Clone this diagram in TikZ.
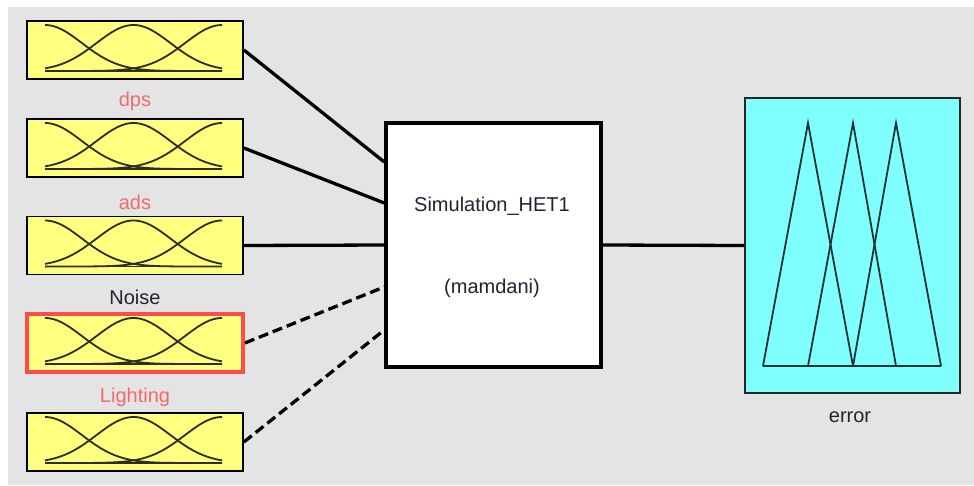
\documentclass[tikz,border=0pt]{standalone}
\usepackage{fontspec}
\setmainfont{Liberation Sans}
\usetikzlibrary{calc}
\definecolor{panel}{HTML}{E4E4E4}
\definecolor{mfyellow}{HTML}{FFFF80}
\definecolor{mfcyan}{HTML}{80FFFF}
\definecolor{lblred}{HTML}{F26B6B}
\definecolor{selred}{HTML}{FF4B4B}
\definecolor{txt}{HTML}{222233}
\definecolor{curve}{HTML}{2E2E1E}
\definecolor{tri}{HTML}{1E3434}
\begin{document}
\begin{tikzpicture}[x=1pt,y=-1pt,
  lbl/.style={font=\fontsize{20}{24}\selectfont, inner sep=0pt},
  inbox/.style={draw=black, line width=1.8pt, fill=mfyellow, minimum width=216pt, minimum height=58pt, inner sep=0pt},
  selbox/.style={inbox, draw=selred, line width=3.8pt},
  simbox/.style={draw=black, line width=3.5pt, fill=white, minimum width=215pt, minimum height=244pt, inner sep=0pt},
  outbox/.style={draw=black!85, line width=1.8pt, fill=mfcyan, minimum width=215pt, minimum height=295pt, inner sep=0pt},
  conn/.style={line width=3.3pt, black},
  dconn/.style={conn, dash pattern=on 10pt off 5pt},
  mf/.style={curve, line width=1.8pt},
  trl/.style={tri, line width=1.8pt, line join=miter}]
\useasboundingbox (0,0) rectangle (974,485);
\fill[white] (0,0) rectangle (974,485);
\fill[panel] (8,7) rectangle (974,485);

% input boxes
\node[inbox]  (b1) at (135,50) {};
\node[inbox]  (b2) at (135,148) {};
\node[inbox]  (b3) at (135,245.5) {};
\node[selbox] (b4) at (135,343) {};
\node[inbox]  (b5) at (135,442) {};

% membership curves
\foreach \cy in {50,148,245.5,343,442}{
  \draw[mf] plot[domain=45:222,samples=90,smooth] (\x,{\cy+21-46*exp(-0.5*((\x-45)/37)^2)});
  \draw[mf] plot[domain=45:222,samples=90,smooth] (\x,{\cy+21-46*exp(-0.5*((\x-133.5)/37)^2)});
  \draw[mf] plot[domain=45:222,samples=90,smooth] (\x,{\cy+21-46*exp(-0.5*((\x-222)/37)^2)});
  \draw[mf] (45,\cy+21) -- (222,\cy+21);
}

% labels
\node[lbl, text=lblred] (ldps) at (135,101) {dps};
\node[lbl, text=lblred] (lads) at (135,202) {ads};
\node[lbl, text=txt] (lnoise) at (135,297) {Noise};
\node[lbl, text=lblred] (llight) at (135,397) {Lighting};

% system box
\node[simbox] (sim) at (493.5,245) {};
\node[lbl, text=txt] (simname) at (492,206) {Simulation\_HET1};
\node[lbl, text=txt] (simtype) at (492,288) {(mamdani)};

\coordinate (in1) at ([yshift=83pt]sim.west);
\coordinate (in2) at ([yshift=42pt]sim.west);
\coordinate (in3) at (sim.west);
\coordinate (in4) at ([yshift=-42pt]sim.west);
\coordinate (in5) at ([yshift=-85pt]sim.west);

\draw[conn] (b1.east) -- (in1);
\draw[conn] (b2.east) -- (in2);
\draw[conn] (b3.east) -- (in3);
\draw[dconn] (b4.east) -- (in4);
\draw[dconn] (b5.east) -- (in5);

% output box
\node[outbox] (out) at (852.5,245.5) {};
\draw[conn] (sim.east) -- (out.west);
\draw[trl] (763,366) -- (808,123) -- (853,366);
\draw[trl] (808,366) -- (853,123) -- (896,366);
\draw[trl] (853,366) -- (896,123) -- (941,366);
\draw[trl] (763,366) -- (941,366);
\node[lbl, text=txt] (lerr) at (850,417) {error};
\end{tikzpicture}
\end{document}
